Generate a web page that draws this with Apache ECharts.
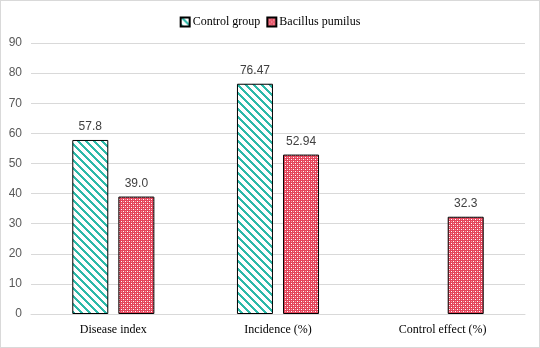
<!DOCTYPE html>
<html><head><meta charset="utf-8">
<script src="https://cdn.jsdelivr.net/npm/echarts@6/dist/echarts.min.js"></script>
<style>html,body{margin:0;padding:0;background:#fff}#c{width:538px;height:346px;border:1px solid #d9d9d9}</style>
</head><body><div id="c"></div>
<script>
const categories = ['Disease index', 'Incidence (%)', 'Control effect (%)'];
const controlGroup = [57.8, 76.47, null];
const bacillus = [39.0, 52.94, 32.3];
const controlLabels = ['57.8', '76.47', ''];
const bacillusLabels = ['39.0', '52.94', '32.3'];

function stripePattern() {
  const c = document.createElement('canvas');
  c.width = 8; c.height = 8;
  const g = c.getContext('2d');
  g.fillStyle = '#fff'; g.fillRect(0, 0, 8, 8);
  g.fillStyle = '#2DB9A9';
  for (let y = 0; y < 8; y++) {
    for (let d = 0; d < 3; d++) g.fillRect((y + d) % 8, y, 1, 1);
  }
  return c;
}
function checkPattern() {
  const c = document.createElement('canvas');
  c.width = 4; c.height = 4;
  const g = c.getContext('2d');
  g.fillStyle = '#E4445A'; g.fillRect(0, 0, 4, 4);
  g.fillStyle = '#fff';
  g.fillRect(0, 0, 1, 1); g.fillRect(2, 2, 1, 1);
  g.fillStyle = '#F29AA6';
  g.fillRect(2, 0, 1, 1); g.fillRect(0, 2, 1, 1);
  return c;
}
const stripe = { image: stripePattern(), repeat: 'repeat' };
const check = { image: checkPattern(), repeat: 'repeat' };

const chart = echarts.init(document.getElementById('c'));
chart.setOption({
  animation: false,
  legend: {
    top: 10, left: 'center', itemWidth: 9, itemHeight: 9, itemGap: 6, icon: 'rect',
    textStyle: { fontFamily: 'Liberation Serif', fontSize: 12, color: '#000', padding: [0, 0, 0, -2] },
    data: ['Control group', 'Bacillus pumilus']
  },
  grid: { left: 30, right: 14, top: 42, bottom: 33 },
  xAxis: {
    type: 'category', data: categories,
    axisLine: { lineStyle: { color: '#d9d9d9' } },
    axisTick: { show: false },
    axisLabel: { fontFamily: 'Liberation Serif', fontSize: 12, color: '#000', margin: 10 }
  },
  yAxis: {
    type: 'value', min: 0, max: 90, interval: 10,
    axisLine: { show: false }, axisTick: { show: false },
    splitLine: { lineStyle: { color: '#d9d9d9' } },
    axisLabel: { fontFamily: 'Liberation Sans', fontSize: 12, color: '#595959', margin: 9 }
  },
  series: [
    {
      name: 'Control group', type: 'bar', data: controlGroup, barWidth: 36, barGap: '28%',
      itemStyle: { color: stripe, borderColor: '#000', borderWidth: 1 },
      label: { show: true, position: 'top', distance: 7, fontFamily: 'Liberation Sans', fontSize: 12, color: '#404040',
        formatter: p => controlLabels[p.dataIndex] }
    },
    {
      name: 'Bacillus pumilus', type: 'bar', data: bacillus, barWidth: 36,
      itemStyle: { color: check, borderColor: '#000', borderWidth: 1 },
      label: { show: true, position: 'top', distance: 7, fontFamily: 'Liberation Sans', fontSize: 12, color: '#404040',
        formatter: p => bacillusLabels[p.dataIndex] }
    }
  ]
});
</script></body></html>
